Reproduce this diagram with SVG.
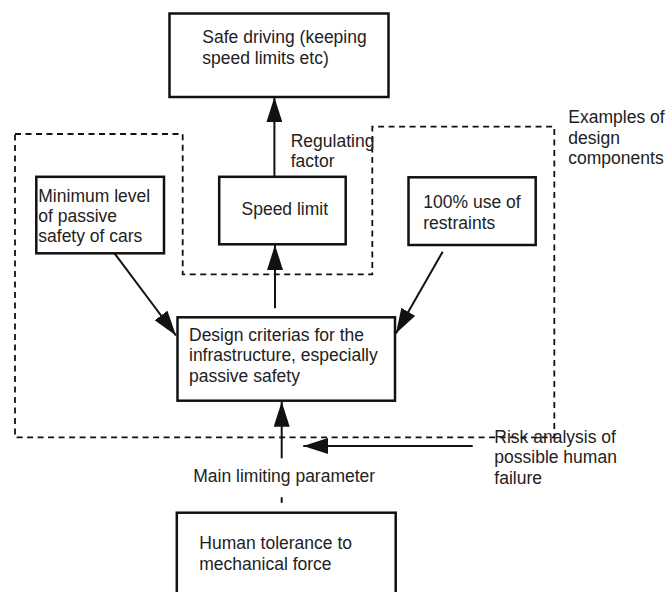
<svg xmlns="http://www.w3.org/2000/svg" width="669" height="592" viewBox="0 0 669 592">
<style>
.box{fill:#fff;stroke:#111;stroke-width:2.5}
.t{font-family:"Liberation Sans",Arial,sans-serif;font-size:17.5px;fill:#222}
.c{fill:none;stroke:#111;stroke-width:2}
.dash{fill:none;stroke:#111;stroke-width:1.8;stroke-dasharray:6 4.5}
</style>
<defs>
<marker id="ah" viewBox="0 0 25 16" markerWidth="25" markerHeight="16" refX="25" refY="8" orient="auto" markerUnits="userSpaceOnUse">
<path d="M0,0 L25,8 L0,16 z" fill="#111"/>
</marker>
</defs>
<rect width="669" height="592" fill="#fff"/>

<g id="design-components-boundary">
<path class="dash" d="M15,134 H182.7 V274.3 H372.3 V126.7 H554.3 V437.3 H15 Z"/>
<text class="t" x="568.3" y="123.3">Examples of<tspan x="568.3" y="143.8">design</tspan><tspan x="568.3" y="164.3">components</tspan></text>
</g>

<g id="safe-driving">
<rect class="box" x="169.5" y="13.5" width="219" height="83.5"/>
<text class="t" x="202.3" y="43.3">Safe driving (keeping<tspan x="202.3" y="63.8">speed limits etc)</tspan></text>
</g>

<g id="minimum-level">
<rect class="box" x="36.3" y="176.8" width="127.7" height="76.5"/>
<text class="t" x="38.3" y="201.7">Minimum level<tspan x="38.3" y="222">of passive</tspan><tspan x="38.3" y="242.3">safety of cars</tspan></text>
</g>

<g id="speed-limit">
<rect class="box" x="219.2" y="176.8" width="126.5" height="67.5"/>
<text class="t" x="241.5" y="215">Speed limit</text>
</g>

<g id="restraints">
<rect class="box" x="408.5" y="177.3" width="127.2" height="67.7"/>
<text class="t" x="423.3" y="208.3">100% use of<tspan x="423.3" y="228.6">restraints</tspan></text>
</g>

<g id="design-criteria">
<rect class="box" x="177.5" y="317.3" width="217.5" height="83.4"/>
<text class="t" x="189" y="341">Design criterias for the<tspan x="189" y="361.3">infrastructure, especially</tspan><tspan x="189" y="381.7">passive safety</tspan></text>
</g>

<g id="human-tolerance">
<rect class="box" x="176.8" y="512.7" width="218.9" height="90"/>
<text class="t" x="199.3" y="549">Human tolerance to<tspan x="199.3" y="570">mechanical force</tspan></text>
</g>

<g id="risk-analysis">
<text class="t" x="494.3" y="442.7">Risk analysis of<tspan x="494.3" y="463.2">possible human</tspan><tspan x="494.3" y="483.5">failure</tspan></text>
</g>

<g id="connectors">
<path class="c" d="M274.4,176.7 V97.2" marker-end="url(#ah)"/>
<text class="t" x="290.7" y="146.7">Regulating<tspan x="290.7" y="166.7">factor</tspan></text>
<path class="c" d="M275,308.3 V245" marker-end="url(#ah)"/>
<path class="c" d="M114.5,253.3 L176,335.5" marker-end="url(#ah)"/>
<path class="c" d="M442.7,251.7 L395.9,333.5" marker-end="url(#ah)"/>
<path class="c" d="M281.7,458.3 V401.7" marker-end="url(#ah)"/>
<path class="c" d="M472.7,446 H303.3" marker-end="url(#ah)"/>
<path class="c" d="M281.7,497.3 V502.8"/>
<text class="t" x="193.3" y="481.7">Main limiting parameter</text>
</g>
</svg>
